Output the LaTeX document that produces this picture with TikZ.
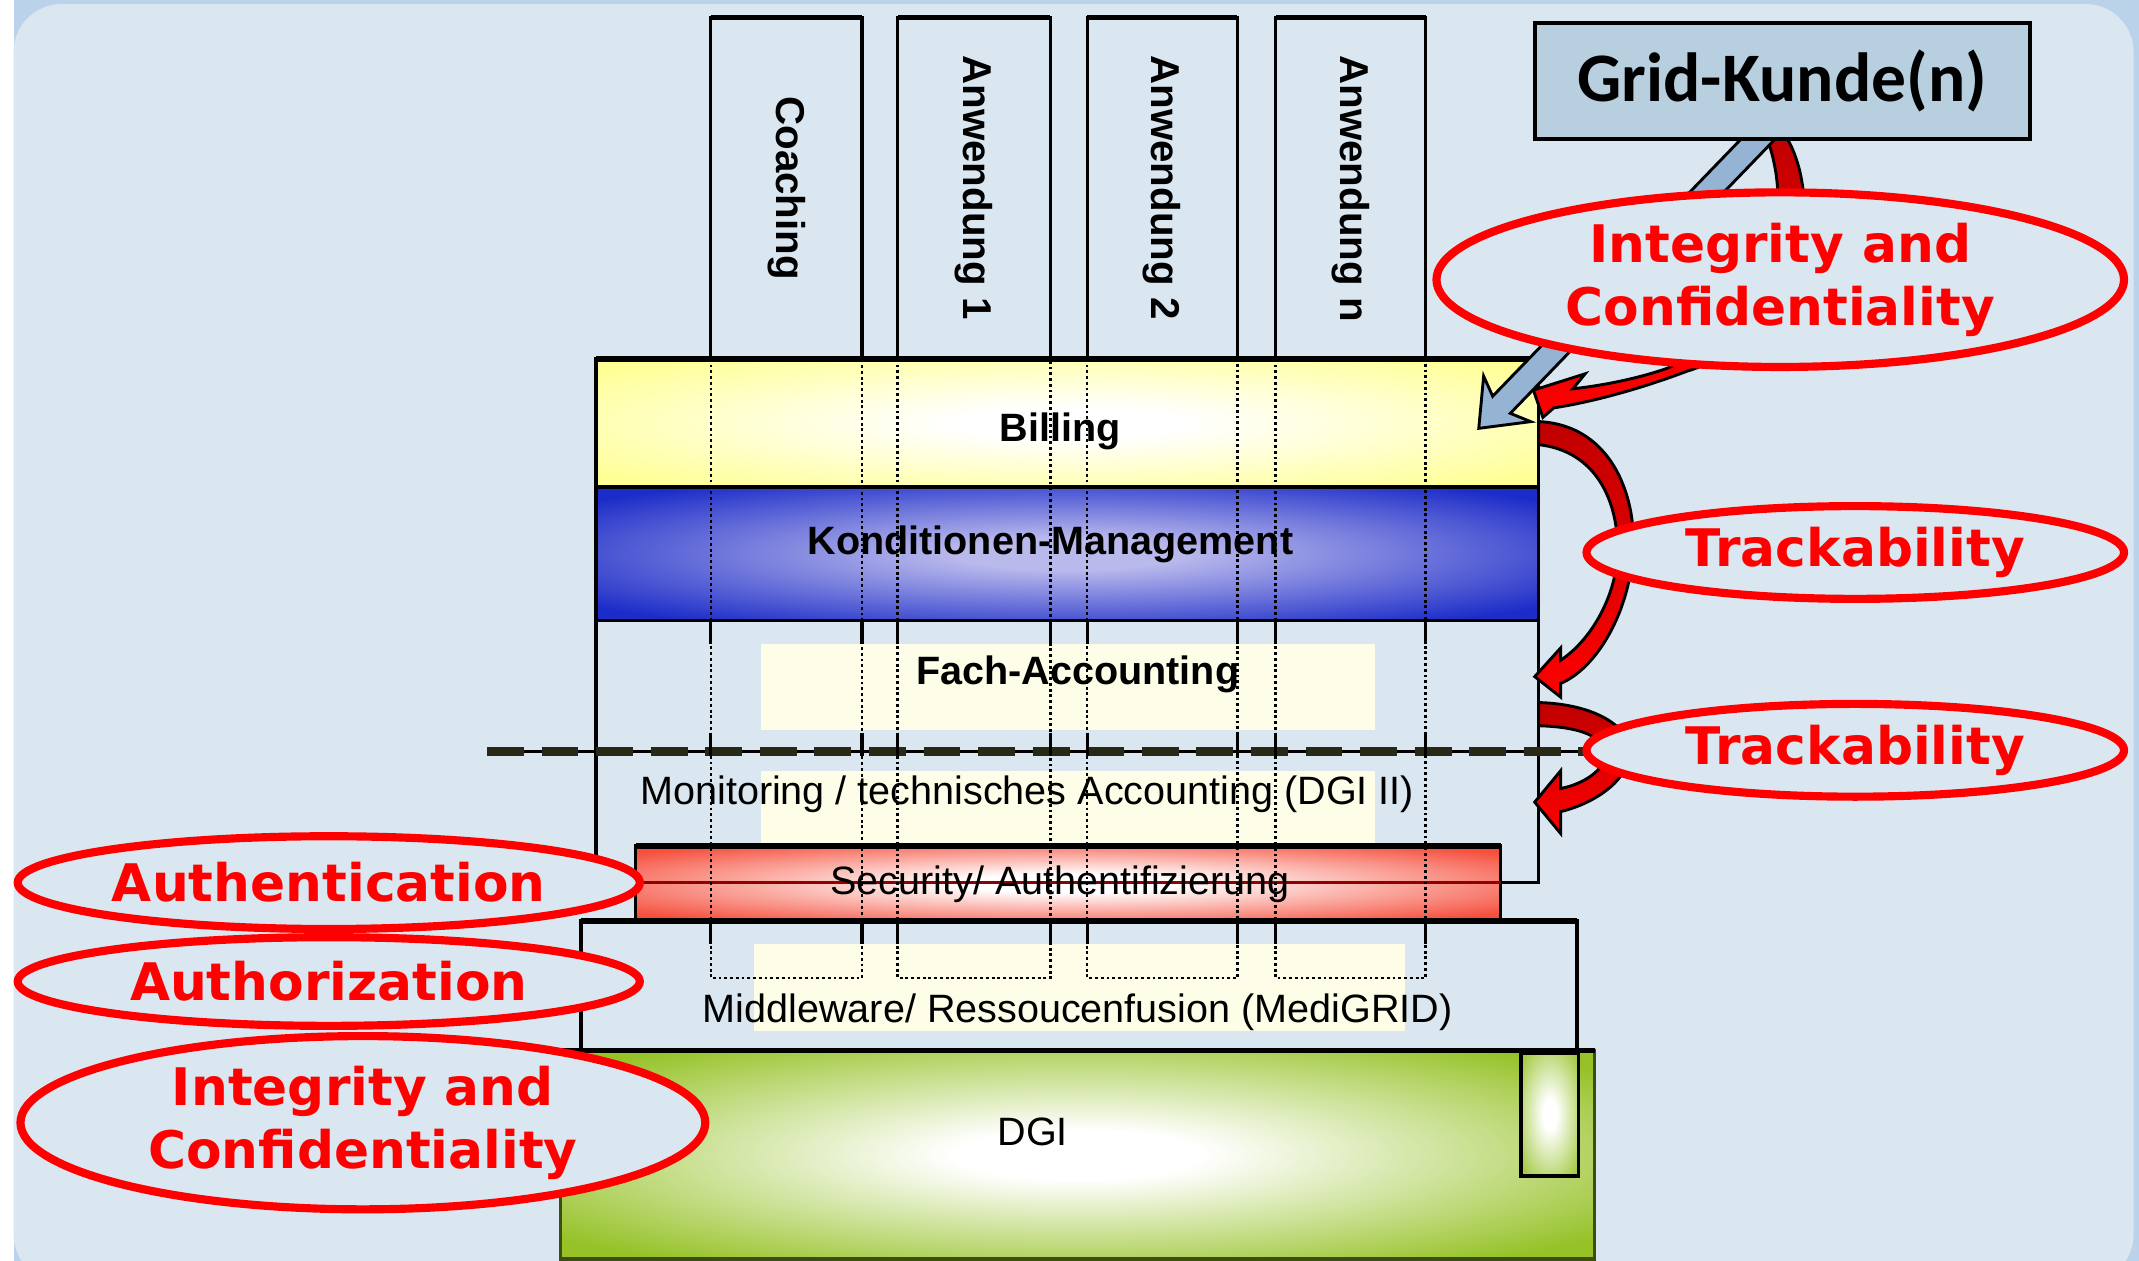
\documentclass[tikz,border=0pt]{standalone}
\usepackage{fontspec}
\setmainfont{Liberation Sans}
\newfontfamily\kundefont{Carlito}
\newfontfamily\guardfont{DejaVu Sans}
\usetikzlibrary{shapes.geometric}

\definecolor{framebg}{RGB}{186,210,234}
\definecolor{panelbg}{RGB}{218,230,240}
\definecolor{billyellow}{RGB}{255,255,150}
\definecolor{kondblue}{RGB}{28,44,200}
\definecolor{kondlight}{RGB}{185,185,236}
\definecolor{secred}{RGB}{245,80,62}
\definecolor{dgigreen}{RGB}{150,194,40}
\definecolor{paleyellow}{RGB}{253,253,232}
\definecolor{kundeblue}{RGB}{184,207,223}
\definecolor{arrowblue}{RGB}{149,180,212}
\definecolor{darkred}{RGB}{192,0,0}
\definecolor{guardred}{RGB}{255,0,0}
\definecolor{dashblack}{RGB}{40,40,22}

\makeatletter
\pgfdeclareradialshading[tikz@radial@inner,tikz@radial@outer]{glow}{\pgfpoint{0bp}{0bp}}{%
  color(0bp)=(tikz@radial@inner); color(6bp)=(tikz@radial@inner);
  color(32bp)=(tikz@radial@outer); color(50bp)=(tikz@radial@outer)}
\makeatother

\begin{document}
\begin{tikzpicture}
  [
    layer/.style = {line width=0.7pt},
    glowfill/.style 2 args = {inner color=#1, outer color=#2, shading=glow},
    layertext/.style = {font=\fontsize{8.25}{10}\selectfont},
    layerbold/.style = {font=\bfseries\fontsize{8.25}{10}\selectfont},
    apptext/.style = {font=\bfseries\fontsize{8.4}{10}\selectfont, rotate=-90, anchor=west, inner sep=0pt},
    guard/.style = {ellipse, draw=guardred, line width=1.7pt, fill=panelbg, text=guardred, inner sep=0pt,
        align=center, font=\guardfont\bfseries\fontsize{10.8}{13.1}\selectfont},
    curved/.style = {draw=black, line width=0.6pt, top color=darkred, bottom color=guardred},
    dotcol/.style = {line width=0.5pt, dash pattern=on 0.6pt off 0.6pt},
  ]

  \useasboundingbox (0,0) rectangle (15.68,-9.24);
  \fill[white] (0,0) rectangle (15.68,-9.24);
  \fill[framebg] (0.10,0) rectangle (15.68,-9.24);
  \fill[panelbg, rounded corners=0.35cm] (0.10,-0.03) rectangle (15.64,-9.40);

  \draw[layer] (4.37,-2.63) rectangle (11.28,-6.47);
  \fill[paleyellow] (5.58,-4.72) rectangle (10.08,-5.35);
  \fill[paleyellow] (5.58,-5.65) rectangle (10.08,-6.20);
  \draw[layer, glowfill={white}{billyellow}] (4.37,-2.63) rectangle (11.28,-3.57);
  \draw[layer, glowfill={kondlight}{kondblue}] (4.37,-3.57) rectangle (11.28,-4.55);
  \draw[layer, glowfill={white}{secred}] (4.66,-6.20) rectangle (11.00,-6.75);
  \draw[line width=0.7pt, darkred!75!black] (4.66,-6.47) -- (11.00,-6.47);
  \draw[layer, fill=panelbg] (4.26,-6.75) rectangle (11.56,-7.70);
  \fill[paleyellow] (5.53,-6.92) rectangle (10.30,-7.56);
  \draw[layer, draw=black!60!dgigreen, glowfill={white}{dgigreen}] (4.11,-7.70) rectangle (11.69,-9.23);
  \draw[layer, glowfill={white}{dgigreen!85}] (11.15,-7.72) rectangle (11.57,-8.62);
  \foreach \l/\r/\y in {4.37/11.28/2.63, 4.66/11.00/6.20, 4.26/11.56/6.75, 4.11/11.69/7.70} {
      \draw[line width=1.2pt] (\l,-\y) -- (\r,-\y);
    }

  \draw[line width=0.5pt] (3.57,-5.51) -- (11.65,-5.51);
  \draw[dashblack, line width=2pt, dash pattern=on 0.27cm off 0.13cm] (3.57,-5.51) -- (11.65,-5.51);

  \foreach \l/\r in {5.21/6.32, 6.58/7.70, 7.97/9.07, 9.35/10.45} {
      \draw[layer] (\l,-2.63) -- (\l,-0.13) -- (\r,-0.13) -- (\r,-2.63);
      \draw[line width=1.1pt] (\l,-0.13) -- (\r,-0.13);
      \draw[dotcol] (\l,-2.63) -- (\l,-7.17) -- (\r,-7.17) -- (\r,-2.63);
      \foreach \a/\b in {4.55/4.72, 5.37/5.54, 6.75/6.92} {
          \draw[layer] (\l,-\a) -- (\l,-\b) (\r,-\a) -- (\r,-\b);
        }
    }

  \node[apptext] (coaching) at (5.765,-0.70) {Coaching};
  \node[apptext] (anw1) at (7.14,-0.40) {Anwendung 1};
  \node[apptext] (anw2) at (8.52,-0.40) {Anwendung 2};
  \node[apptext] (anwn) at (9.90,-0.40) {Anwendung n};

  \node[layerbold] (billing) at (7.77,-3.16) {Billing};
  \node[layerbold] (kond) at (7.70,-3.99) {Konditionen-Management};
  \node[layerbold] (fach) at (7.90,-4.94) {Fach-Accounting};
  \node[layertext] (monitor) at (7.53,-5.82) {Monitoring / technisches Accounting (DGI II)};
  \node[layertext] (security) at (7.77,-6.48) {Security/ Authentifizierung};
  \node[layertext] (middleware) at (7.90,-7.42) {Middleware/ Ressoucenfusion (MediGRID)};
  \node[layertext] (dgi) at (7.57,-8.30) {DGI};

  \draw[curved] (13.08,-0.98) .. controls (13.38,-1.45) and (13.25,-2.45) .. (12.37,-2.72)
    .. controls (12.00,-2.86) and (11.65,-2.95) .. (11.39,-2.99)
    -- (11.31,-3.06) -- (11.24,-2.86) -- (11.62,-2.74) -- (11.53,-2.85)
    .. controls (11.80,-2.82) and (12.05,-2.76) .. (12.22,-2.70)
    .. controls (13.05,-2.35) and (13.15,-1.50) .. (12.94,-0.98) -- cycle;
  \draw[curved] (11.28,-3.09) .. controls (11.85,-3.12) and (12.00,-3.70) .. (11.97,-4.05)
    .. controls (11.94,-4.50) and (11.70,-4.90) .. (11.44,-5.01)
    -- (11.44,-5.11) -- (11.25,-4.96) -- (11.44,-4.75) -- (11.44,-4.84)
    .. controls (11.65,-4.70) and (11.84,-4.40) .. (11.86,-4.05)
    .. controls (11.86,-3.60) and (11.65,-3.30) .. (11.28,-3.26) -- cycle;
  \draw[curved] (11.28,-5.15) .. controls (11.65,-5.16) and (11.93,-5.30) .. (11.95,-5.50)
    .. controls (11.95,-5.70) and (11.72,-5.88) .. (11.44,-5.95)
    -- (11.44,-6.11) -- (11.25,-5.88) -- (11.44,-5.65) -- (11.44,-5.78)
    .. controls (11.60,-5.75) and (11.76,-5.65) .. (11.77,-5.53)
    .. controls (11.75,-5.40) and (11.60,-5.33) .. (11.28,-5.32) -- cycle;

  \coordinate (bluetip) at (10.84,-3.14);
  \draw[fill=arrowblue, line width=0.6pt, shift={(bluetip)}, rotate=46]
    (0,0) -- (0.30,0.24) -- (0.24,0.09) -- (3.05,0.09) -- (3.05,-0.09) -- (0.24,-0.09) -- (0.30,-0.24) -- cycle;

  \node[draw, line width=0.8pt, fill=kundeblue, minimum width=3.63cm, minimum height=0.85cm,
    font=\kundefont\bfseries\fontsize{14.5}{16}\selectfont] (kunde) at (13.065,-0.595) {Grid-Kunde(n)};

  \node[guard, minimum width=5.04cm, minimum height=1.28cm] (integtop) at (13.05,-2.05) {Integrity and\\Confidentiality};
  \node[guard, minimum width=3.94cm, minimum height=0.68cm] (trackup) at (13.60,-4.05) {Trackability};
  \node[guard, minimum width=3.94cm, minimum height=0.68cm] (trackdown) at (13.60,-5.50) {Trackability};
  \node[guard, minimum width=4.56cm, minimum height=0.68cm] (authent) at (2.41,-6.47) {Authentication};
  \node[guard, minimum width=4.56cm, minimum height=0.65cm] (authoriz) at (2.41,-7.195) {Authorization};
  \node[guard, minimum width=5.02cm, minimum height=1.27cm] (integleft) at (2.66,-8.23) {Integrity and\\Confidentiality};

\end{tikzpicture}
\end{document}
